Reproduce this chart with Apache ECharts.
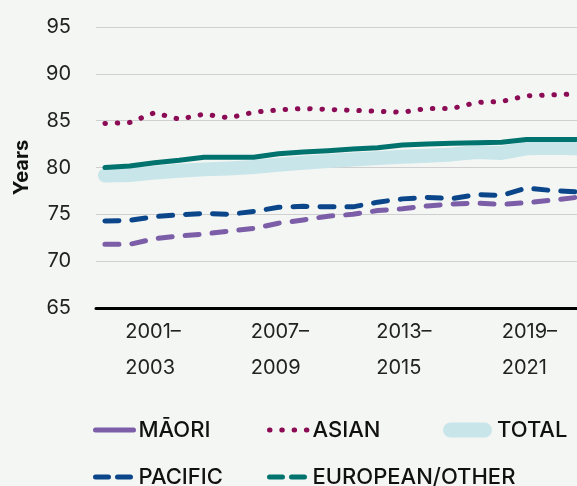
<!DOCTYPE html>
<html>
<head>
<meta charset="utf-8">
<script src="https://cdn.jsdelivr.net/npm/echarts@6/dist/echarts.min.js"></script>
<style>
  html, body { margin: 0; padding: 0; background: #f4f6f3; }
  #chart { width: 577px; height: 486px; }
</style>
</head>
<body>
<div id="chart"></div>
<script>
// three-year periods, one point each
const periods = [
  '2001–2003', '2002–2004', '2003–2005', '2004–2006', '2005–2007',
  '2006–2008', '2007–2009', '2008–2010', '2009–2011', '2010–2012',
  '2011–2013', '2012–2014', '2013–2015', '2014–2016', '2015–2017',
  '2016–2018', '2017–2019', '2018–2020', '2019–2021', '2020–2022'
];
const maori = [71.8, 71.8, 72.4, 72.7, 72.9, 73.2, 73.5, 74.05, 74.4, 74.8,
  75.0, 75.4, 75.6, 75.9, 76.1, 76.2, 76.05, 76.25, 76.5, 76.8];
const asian = [84.7, 84.8, 85.85, 85.15, 85.7, 85.3, 85.9, 86.15, 86.3, 86.2,
  86.1, 86.0, 85.9, 86.3, 86.3, 86.95, 87.05, 87.65, 87.75, 87.85];
const pacific = [74.3, 74.35, 74.75, 74.95, 75.1, 75.0, 75.3, 75.75, 75.85, 75.8,
  75.8, 76.3, 76.65, 76.8, 76.68, 77.1, 77.02, 77.8, 77.55, 77.4];
const european = [80.0, 80.15, 80.5, 80.77, 81.1, 81.1, 81.1, 81.47, 81.65, 81.8,
  81.98, 82.12, 82.4, 82.5, 82.58, 82.63, 82.69, 83.0, 83.0, 83.0];
const total = [79.15, 79.2, 79.45, 79.65, 79.8, 79.9, 80.05, 80.3, 80.5, 80.7,
  80.85, 81.0, 81.15, 81.25, 81.4, 81.65, 81.55, 82.05, 82.1, 82.05];

// x axis labels (start year of the period)
const tickYears = [2001, 2007, 2013, 2019];
const tickLabels = ['2001–\n2003', '2007–\n2009', '2013–\n2015', '2019–\n2021'];

const FONT = 'Inter, "Open Sans", sans-serif';

function pts(arr) {
  return arr.map((v, i) => [i, v]);
}

let chartDom = document.getElementById('chart');
let myChart = echarts.init(chartDom);

const legendText = {
  fontFamily: FONT,
  fontSize: 22,
  fontWeight: 500,
  color: '#111',
  lineHeight: 22,
};

// one legend per entry so the columns line up like the original
function legendAt(left, top, item, width) {
  return {
    left: left,
    top: top,
    padding: 0,
    itemWidth: width || 38,
    itemHeight: 15,
    selectedMode: false,
    textStyle: legendText,
    itemStyle: { opacity: 0 }, // hide the symbol dot, keep the line
    data: [item],
  };
}

let option = {
  backgroundColor: '#f4f6f3',
  animation: false,
  grid: { left: 96, right: 0, top: 27, height: 281, outerBoundsMode: 'none', containLabel: false },
  xAxis: [
    {
      type: 'value',
      min: -0.36,
      max: 19.04,
      show: false,
    },
    {
      // label axis only
      type: 'value',
      min: 1999.6,
      max: 2022.6,
      position: 'bottom',
      axisLine: { show: true, lineStyle: { color: '#000', width: 3 } },
      axisTick: { show: false },
      splitLine: { show: false },
      axisLabel: {
        customValues: tickYears,
        formatter: (v) => tickLabels[tickYears.indexOf(v)] || '',
        align: 'left',
        margin: 6,
        fontFamily: FONT,
        fontSize: 20,
        lineHeight: 36,
        color: '#222',
      },
    },
  ],
  yAxis: {
    type: 'value',
    min: 65,
    max: 95,
    interval: 5,
    name: 'Years',
    nameLocation: 'middle',
    nameRotate: 90,
    nameGap: 64,
    nameTextStyle: { fontFamily: FONT, fontSize: 20, fontWeight: 'bold', color: '#111' },
    axisLine: { show: false },
    axisTick: { show: false },
    axisLabel: { margin: 25, fontFamily: FONT, fontSize: 20, color: '#222' },
    splitLine: { show: true, lineStyle: { color: '#cfcfcf', width: 1 } },
  },
  legend: [
    legendAt(93, 419, { name: 'MĀORI', lineStyle: { type: 'solid', width: 5, cap: 'round' } }),
    legendAt(93, 466, { name: 'PACIFIC', lineStyle: { type: [13, 9], width: 5, cap: 'round' } }),
    legendAt(267, 419, { name: 'ASIAN', lineStyle: { type: [0.5, 11.8], width: 5, cap: 'round' } }),
    legendAt(267, 466, { name: 'EUROPEAN/OTHER', lineStyle: { type: [13, 9], width: 5, cap: 'round' } }),
    {
      left: 443,
      top: 419,
      padding: 0,
      itemWidth: 49,
      itemHeight: 15,
      selectedMode: false,
      textStyle: legendText,
      data: [
        {
          name: 'TOTAL',
          icon: 'path://M7.5,0 H41.5 A7.5,7.5 0 0 1 41.5,15 H7.5 A7.5,7.5 0 0 1 7.5,0 Z',
          itemStyle: { color: '#c8e5ea', opacity: 1 },
        },
      ],
    },
  ],
  series: [
    {
      name: 'TOTAL',
      type: 'line',
      xAxisIndex: 0,
      data: pts(total),
      symbol: 'none',
      z: 1,
      itemStyle: { color: '#c8e5ea' },
      lineStyle: { color: '#c8e5ea', width: 14, cap: 'round', join: 'round' },
    },
    {
      name: 'EUROPEAN/OTHER',
      type: 'line',
      xAxisIndex: 0,
      data: pts(european),
      symbol: 'none',
      z: 2,
      itemStyle: { color: '#00736f' },
      lineStyle: { color: '#00736f', width: 5, cap: 'round', join: 'round' },
    },
    {
      name: 'PACIFIC',
      type: 'line',
      xAxisIndex: 0,
      data: pts(pacific),
      symbol: 'none',
      z: 3,
      itemStyle: { color: '#0b468a' },
      lineStyle: { color: '#0b468a', width: 5, type: [14, 13], cap: 'round', join: 'round' },
    },
    {
      name: 'MĀORI',
      type: 'line',
      xAxisIndex: 0,
      data: pts(maori),
      symbol: 'none',
      z: 3,
      itemStyle: { color: '#7b5ea7' },
      lineStyle: { color: '#7b5ea7', width: 5, type: [14, 13], cap: 'round', join: 'round' },
    },
    {
      name: 'ASIAN',
      type: 'line',
      xAxisIndex: 0,
      data: pts(asian),
      symbol: 'none',
      z: 3,
      itemStyle: { color: '#8b0b55' },
      lineStyle: { color: '#8b0b55', width: 5, type: [0.5, 11.8], cap: 'round', join: 'round' },
    },
  ],
};

myChart.setOption(option);
window.onresize = function () {
  myChart.resize();
};
</script>
</body>
</html>
